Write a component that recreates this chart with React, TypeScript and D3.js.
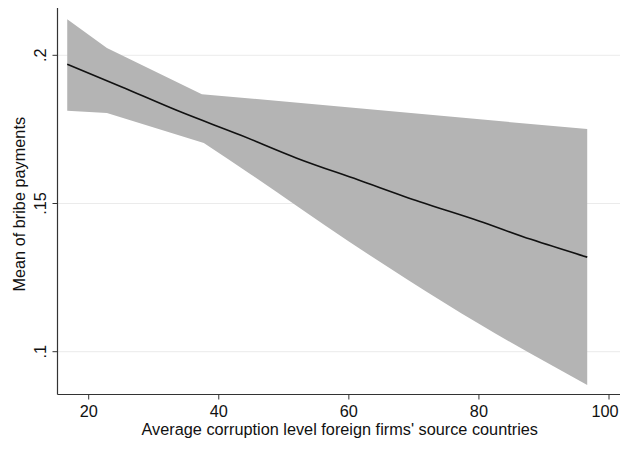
import { useEffect, useRef } from 'react';
import * as d3 from 'd3';

// Fitted line (corruption level -> mean of bribe payments)
const lineX = [16.7, 25.0, 34.0, 43.3, 52.0, 61.4, 70.9, 80.0, 88.0, 96.65];
const lineY = [0.197, 0.1894, 0.181, 0.1731, 0.1653, 0.158, 0.1506, 0.1441, 0.1379, 0.1319];

// Confidence band, upper and lower edges
const upperX = [16.7, 22.8, 37.4, 96.65];
const upperY = [0.2122, 0.2025, 0.1869, 0.1751];
const lowerX = [16.7, 22.8, 37.7, 45.0, 52.5, 60.0, 69.1, 80.0, 96.65];
const lowerY = [0.1813, 0.1805, 0.1704, 0.1597, 0.1484, 0.1372, 0.1242, 0.1094, 0.0888];

const xTicks = [20, 40, 60, 80, 100];
const yTicks = [0.1, 0.15, 0.2];
const yTickLabels = ['.1', '.15', '.2'];

const W = 620;
const H = 449;

export default function App() {
  const svgRef = useRef<SVGSVGElement>(null);

  useEffect(() => {
    const svg = d3.select(svgRef.current);
    svg.selectAll('*').remove();

    const left = 57.5, right = 620, top = 8, bottom = 394.5;
    const x = d3.scaleLinear().domain([20, 100]).range([88.7, 609]);
    const y = d3.scaleLinear().domain([0.1, 0.2]).range([351.7, 55.3]);

    // gridlines
    svg.selectAll('.grid').data(yTicks).join('line')
      .attr('x1', left).attr('x2', right)
      .attr('y1', d => y(d)).attr('y2', d => y(d))
      .attr('stroke', '#ebebeb').attr('stroke-width', 1);

    // band: straight segments at the left, smooth lower edge further right
    const upper = upperX.map((v, i) => [x(v), y(upperY[i])] as [number, number]);
    const lower = lowerX.map((v, i) => [x(v), y(lowerY[i])] as [number, number]);
    const lowerHead = lower.slice(0, 3);
    const lowerTail = lower.slice(2);
    const tailPath = d3.line().curve(d3.curveMonotoneX)(lowerTail.slice().reverse()) as string;
    const d = d3.line()(upper) + 'L' + tailPath.slice(1) +
      'L' + lowerHead.slice().reverse().map(p => p.join(',')).join('L') + 'Z';
    svg.append('path')
      .attr('d', d)
      .attr('fill', '#b4b4b4');

    // fitted line
    const pts = lineX.map((v, i) => [x(v), y(lineY[i])] as [number, number]);
    svg.append('path')
      .attr('d', d3.line().curve(d3.curveMonotoneX)(pts))
      .attr('fill', 'none').attr('stroke', '#111').attr('stroke-width', 1.6);

    // axes
    svg.append('line').attr('x1', left).attr('x2', left).attr('y1', top).attr('y2', bottom)
      .attr('stroke', '#333').attr('stroke-width', 1.2);
    svg.append('line').attr('x1', left).attr('x2', right).attr('y1', bottom).attr('y2', bottom)
      .attr('stroke', '#333').attr('stroke-width', 1.2);

    const font = 'Liberation Sans, Arial, Helvetica, sans-serif';
    const fs = 16.3;

    // y ticks
    svg.selectAll('.yt').data(yTicks).join('line')
      .attr('x1', left - 5).attr('x2', left)
      .attr('y1', d => y(d)).attr('y2', d => y(d))
      .attr('stroke', '#333').attr('stroke-width', 1);
    svg.selectAll('.yl').data(yTicks).join('text')
      .attr('transform', d => `translate(46,${y(d)}) rotate(-90)`)
      .attr('text-anchor', 'middle')
      .attr('font-family', font).attr('font-size', fs).attr('fill', '#111')
      .text((_, i) => yTickLabels[i]);

    // x ticks
    svg.selectAll('.xt').data(xTicks).join('line')
      .attr('x1', d => x(d)).attr('x2', d => x(d))
      .attr('y1', bottom).attr('y2', bottom + 5)
      .attr('stroke', '#333').attr('stroke-width', 1);
    svg.selectAll('.xl').data(xTicks).join('text')
      .attr('x', d => Math.min(x(d), W - 15)).attr('y', 417)
      .attr('text-anchor', 'middle')
      .attr('font-family', font).attr('font-size', fs).attr('fill', '#111')
      .text(d => d);

    // titles
    svg.append('text')
      .attr('x', (left + right) / 2 + 1).attr('y', 435)
      .attr('text-anchor', 'middle')
      .attr('font-family', font).attr('font-size', fs).attr('fill', '#111')
      .text("Average corruption level foreign firms' source countries");
    svg.append('text')
      .attr('transform', `translate(25,${(top + bottom) / 2 + 3}) rotate(-90)`)
      .attr('text-anchor', 'middle')
      .attr('font-family', font).attr('font-size', fs).attr('fill', '#111')
      .text('Mean of bribe payments');
  }, []);

  return (
    <svg ref={svgRef} width={W} height={H}
      style={{ position: 'absolute', left: 0, top: 0, background: '#fff' }} />
  );
}
